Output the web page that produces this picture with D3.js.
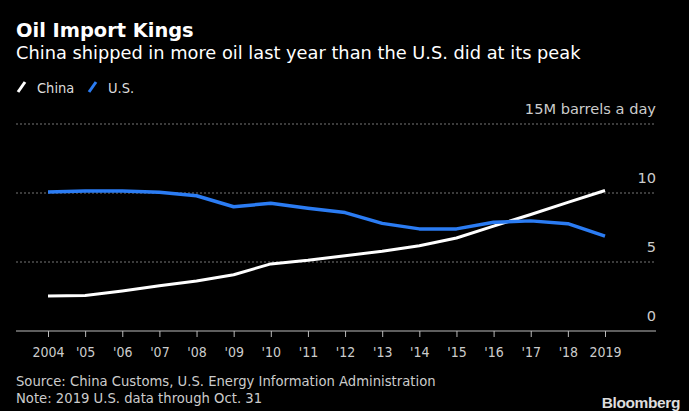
<!DOCTYPE html>
<html><head><meta charset="utf-8">
<script src="https://cdn.jsdelivr.net/npm/d3@7"></script>
<style>
html,body{margin:0;padding:0;background:#000;}
svg{display:block;}
text{font-family:"DejaVu Sans",sans-serif;}
.cond{font-family:"DejaVu Sans Condensed","DejaVu Sans",sans-serif;font-stretch:condensed;}
</style></head>
<body>
<svg id="chart" width="689" height="411"></svg>
<script>
const years = [2004,2005,2006,2007,2008,2009,2010,2011,2012,2013,2014,2015,2016,2017,2018,2019];
const yearLabels = ["2004","'05","'06","'07","'08","'09","'10","'11","'12","'13","'14","'15","'16","'17","'18","2019"];
const china = [2.54,2.58,2.9,3.28,3.62,4.08,4.86,5.12,5.46,5.78,6.18,6.74,7.6,8.44,9.32,10.18];
const us = [10.08,10.14,10.15,10.06,9.8,9.0,9.26,8.9,8.58,7.8,7.4,7.4,7.88,7.98,7.78,6.88];
const yTicks = [0,5,10,15];
const yTickLabels = ["0","5","10","15M barrels a day"];

const svg = d3.select("#chart");
svg.append("rect").attr("width",689).attr("height",411).attr("fill","#000");

const x = d3.scaleLinear().domain([2004,2019]).range([48,605]);
const y = d3.scaleLinear().domain([0,15]).range([331,124]);

// titles
svg.append("text").attr("x",16).attr("y",36.5).attr("fill","#fff")
  .attr("font-size",19.4).attr("font-weight","bold").text("Oil Import Kings");
svg.append("text").attr("x",16).attr("y",58.5).attr("fill","#fff")
  .attr("font-size",17.8).text("China shipped in more oil last year than the U.S. did at its peak");

// legend
const legend = [{name:"China",color:"#ffffff",x:18},{name:"U.S.",color:"#2b7cf3",x:89}];
legend.forEach(l=>{
  svg.append("line").attr("x1",l.x).attr("y1",92).attr("x2",l.x+7).attr("y2",82)
    .attr("stroke",l.color).attr("stroke-width",3);
  svg.append("text").attr("class","cond").attr("x",l.x+19).attr("y",92.5).attr("fill","#ddd")
    .attr("font-size",14.5).text(l.name);
});

// gridlines
const grid = svg.append("g");
yTicks.filter(d=>d>0).forEach(d=>{
  grid.append("line").attr("x1",16).attr("x2",656).attr("y1",y(d)).attr("y2",y(d))
    .attr("stroke","#777").attr("stroke-width",1).attr("stroke-dasharray","2,2");
});
yTicks.forEach((d,i)=>{
  svg.append("text").attr("x",656).attr("y",y(d)-10).attr("text-anchor","end")
    .attr("fill","#ccc").attr("font-size",14.6).text(yTickLabels[i]);
});

// x axis
const xAxis = d3.axisBottom(x).tickValues(years).tickFormat((d,i)=>yearLabels[i])
  .tickSize(6).tickPadding(10).tickSizeOuter(0);
const gx = svg.append("g").attr("transform","translate(0,331)").call(xAxis);
gx.select(".domain").remove();
gx.append("line").attr("x1",16).attr("x2",656).attr("y1",0).attr("y2",0).attr("stroke","#bbb").attr("stroke-width",1.2);
gx.selectAll(".tick line").attr("stroke","#bbb");
gx.selectAll(".tick text").attr("class","cond").attr("fill","#ccc").attr("font-size",14)
  .attr("font-family",null);

// lines
const line = d3.line().x((d,i)=>x(years[i])).y(d=>y(d));
svg.append("path").datum(china).attr("d",line).attr("fill","none")
  .attr("stroke","#ffffff").attr("stroke-width",3).attr("stroke-linejoin","round");
svg.append("path").datum(us).attr("d",line).attr("fill","none")
  .attr("stroke","#2b7cf3").attr("stroke-width",3.5).attr("stroke-linejoin","round");

// footer
svg.append("text").attr("x",16).attr("y",386).attr("fill","#ccc").attr("font-size",13.2)
  .text("Source: China Customs, U.S. Energy Information Administration");
svg.append("text").attr("x",16).attr("y",403).attr("fill","#ccc").attr("font-size",13.2)
  .text("Note: 2019 U.S. data through Oct. 31");
svg.append("text").attr("x",680).attr("y",408).attr("text-anchor","end").attr("fill","#ddd")
  .style("font-family","'Liberation Sans',Arial,sans-serif")
  .attr("font-size",15.5).attr("font-weight","bold").attr("letter-spacing","-0.4").text("Bloomberg");
</script>
</body></html>
